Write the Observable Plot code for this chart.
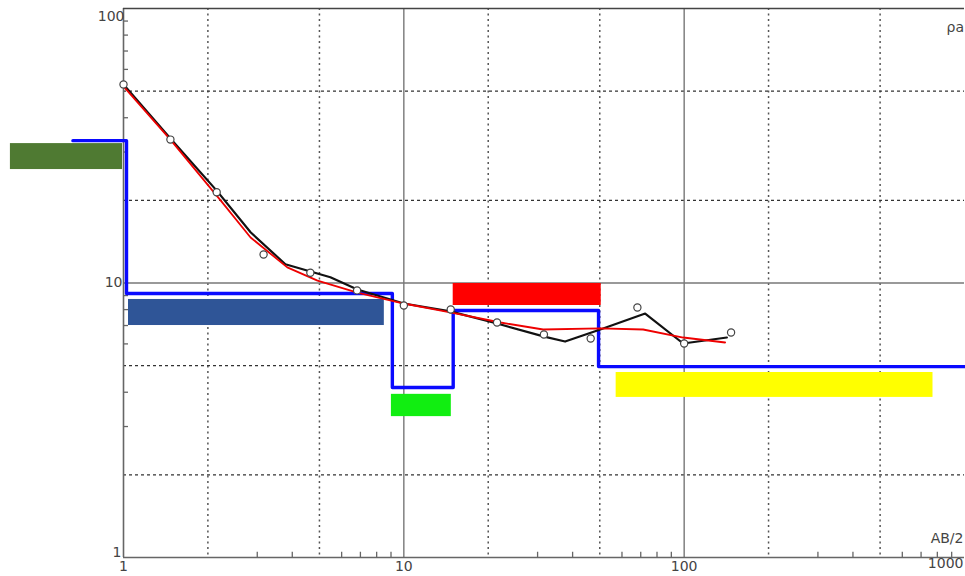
<!DOCTYPE html>
<html><head><meta charset="utf-8">
<script src="https://cdn.jsdelivr.net/npm/d3@7"></script>
<script src="https://cdn.jsdelivr.net/npm/@observablehq/plot@0.6"></script>
<style>body{margin:0;background:#fff} #chart svg{display:block}</style>
</head><body><div id="chart"></div>
<script>
// Observed apparent resistivity (circles)
const abHalf = [1, 1.47, 2.15, 3.16, 4.64, 6.81, 10, 14.7, 21.5, 31.6, 46.4, 68.1, 100, 147];
const rhoObs = [52.9, 33.3, 21.4, 12.7, 10.9, 9.4, 8.28, 8.01, 7.18, 6.49, 6.28, 8.14, 6.02, 6.60];
// Black curve
const fitX = [1, 1.47, 2.15, 2.84, 3.78, 5.47, 6.83, 10, 14.65, 21.5, 31.7, 37.6, 50.2, 72.6, 99.2, 142];
const fitRho = [52.9, 33.6, 21.7, 15.3, 11.7, 10.5, 9.47, 8.42, 7.88, 7.12, 6.38, 6.12, 6.77, 7.74, 6.02, 6.33];
// Red curve
const smoothX = [1, 1.47, 2.22, 2.84, 3.84, 4.92, 6.83, 10, 14.65, 22.1, 31.4, 50.2, 71.4, 99.2, 140];
const smoothRho = [52.0, 33.3, 20.0, 14.65, 11.4, 10.2, 9.23, 8.42, 7.81, 7.18, 6.77, 6.83, 6.77, 6.33, 6.07];
// Blue layered model (step)
const layerStart = [0.66, 1.025, 9.1, 15.0, 49.5, 1000];
const layerRho = [33.0, 9.16, 4.16, 7.94, 4.96, 4.96];
// Coloured bars
const barX1 = [0.395, 1.042, 9.03, 15.0, 57.2];
const barX2 = [0.992, 8.52, 14.77, 50.6, 772];
const barTop = [32.2, 8.71, 3.93, 9.96, 4.72];
const barBottom = [25.9, 7.00, 3.26, 8.28, 3.83];
const barColor = ["#4f7a32", "#2f5597", "#11ee11", "#ff0000", "#ffff00"];
// Axes / grid
const xTickLabels = [1, 10, 100];
const xLastLabel = [1000];
const gridDotX = [2, 5, 20, 50, 200, 500];
const gridSolidX = [10, 100];
const gridDotY = [2, 5, 20, 50];
const gridSolidY = [10];
const minorTicksX = [3, 4, 6, 7, 8, 9, 30, 40, 60, 70, 80, 90, 300, 400, 600, 700, 800, 900];
const minorTicksY = [3, 4, 6, 7, 8, 9, 30, 40, 60, 70, 80, 90];

const obs = abHalf.map((x, i) => ({x, y: rhoObs[i]}));
const fit = fitX.map((x, i) => ({x, y: fitRho[i]}));
const smooth = smoothX.map((x, i) => ({x, y: smoothRho[i]}));
const layers = layerStart.map((x, i) => ({x, y: layerRho[i]}));
const bars = barColor.map((c, i) => ({x1: barX1[i], x2: barX2[i], y1: barBottom[i], y2: barTop[i], c}));

const chart = Plot.plot({
  width: 965, height: 576,
  marginLeft: 123, marginRight: 1, marginTop: 8, marginBottom: 19,
  x: {type: "log", domain: [1, 1000], axis: null},
  y: {type: "log", domain: [1, 100], axis: null},
  style: {fontFamily: "DejaVu Sans, sans-serif", fontSize: "14px", color: "#444", background: "#fff"},
  marks: [
    Plot.ruleX(gridDotX, {stroke: "#555", strokeDasharray: "2,3.5", strokeWidth: 1.5}),
    Plot.ruleY(gridDotY, {stroke: "#333", strokeDasharray: "3,3", strokeWidth: 1.2}),
    Plot.ruleX(gridSolidX, {stroke: "#777", strokeWidth: 1.4}),
    Plot.ruleY(gridSolidY, {stroke: "#777", strokeWidth: 1.4}),
    Plot.ruleX([1], {stroke: "#666", strokeWidth: 1.6}),
    Plot.ruleY([1], {stroke: "#666", strokeWidth: 1.6}),
    Plot.ruleY([100], {stroke: "#444", strokeWidth: 1.3}),
    Plot.ruleX(minorTicksX, {x: d => d, y1: () => 1, y2: () => 1.045, stroke: "#666", strokeWidth: 1.3}),
    Plot.ruleY(minorTicksY, {y: d => d, x1: () => 1, x2: () => 1.042, stroke: "#666", strokeWidth: 1.3}),
    Plot.rect(bars, {x1: "x1", x2: "x2", y1: "y1", y2: "y2", fill: "c"}),
    Plot.line(layers, {x: "x", y: "y", curve: "step-after", stroke: "#0a0aff", strokeWidth: 3.4}),
    Plot.line(fit, {x: "x", y: "y", stroke: "#111", strokeWidth: 2.2}),
    Plot.line(smooth, {x: "x", y: "y", stroke: "#ee0000", strokeWidth: 1.8}),
    Plot.dot(obs, {x: "x", y: "y", r: 3.6, fill: "white", stroke: "#444", strokeWidth: 1.2}),
    Plot.axisX({ticks: xTickLabels, tickSize: 0, tickPadding: 4, tickFormat: d => String(d), fontSize: 14}),
    Plot.text(xLastLabel, {x: d => d, frameAnchor: "bottom", textAnchor: "end", dx: -1, dy: 10, text: d => String(d), fill: "#444"}),
    Plot.text([10], {y: d => d, frameAnchor: "left", textAnchor: "end", dx: -1, text: d => String(d), fill: "#444"}),
    Plot.text([100], {y: d => d, frameAnchor: "left", textAnchor: "end", dx: 1, dy: 8, text: d => String(d), fill: "#444"}),
    Plot.text([1], {y: d => d, frameAnchor: "left", textAnchor: "end", dx: -2, dy: -5, text: d => String(d), fill: "#444"}),
    Plot.text(["ρa"], {frameAnchor: "top-right", textAnchor: "start", dx: -18, dy: 14, fill: "#444", fontSize: 14}),
    Plot.text(["AB/2"], {frameAnchor: "bottom-right", textAnchor: "end", dx: -1, dy: -15, fill: "#444"})
  ]
});
document.getElementById("chart").appendChild(chart);
</script>
</body></html>
